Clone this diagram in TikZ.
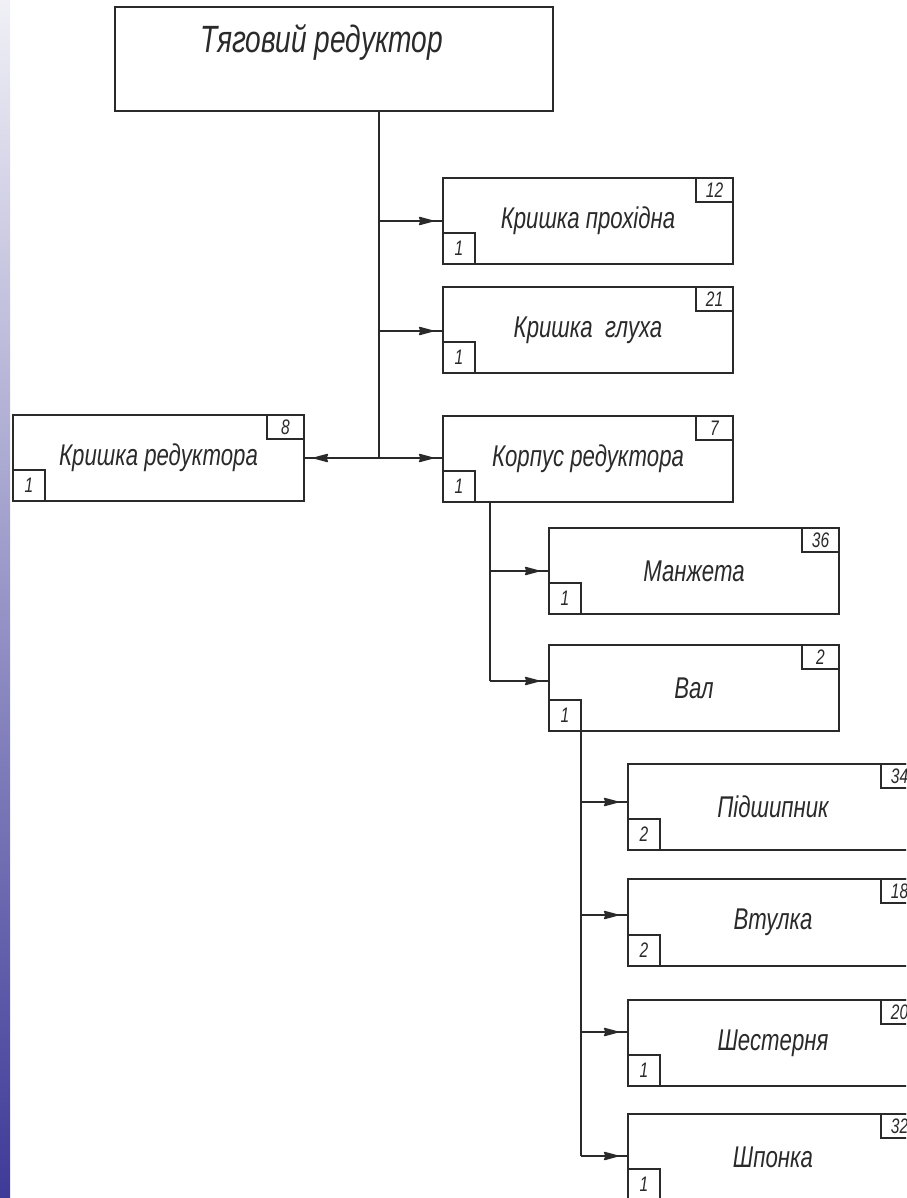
\documentclass[tikz,border=0pt]{standalone}
\usepackage{fontspec}
\setmainfont{Liberation Sans}[FakeStretch=0.74]
\usetikzlibrary{arrows.meta}

\definecolor{stripTop}{HTML}{F0F0F6}
\definecolor{stripBot}{HTML}{3E3A98}
\definecolor{ink}{HTML}{2A2A2A}

\begin{document}
\begin{tikzpicture}[x=1pt, y=-1pt, line width=1.5pt, color=ink,
	part/.style={draw, inner sep=0pt, minimum width=290pt, minimum height=86pt, font=\itshape\fontsize{30}{32}\selectfont},
	posnum/.style={draw, inner sep=0pt, minimum width=37pt, minimum height=24pt, anchor=north east, font=\itshape\fontsize{21}{22}\selectfont},
	qty/.style={draw, inner sep=0pt, minimum width=32pt, minimum height=31pt, anchor=south west, font=\itshape\fontsize{21}{22}\selectfont},
	link/.style={-{Stealth[length=17pt,width=9pt,inset=2pt,round,line width=1.5pt]Rectangle[length=9pt,width=2pt]}}]

	\path[use as bounding box, clip] (0,0) rectangle (906,1198);
	\shade[top color=stripTop, bottom color=stripBot] (0,0) rectangle (10,1198);

	% top of the tree
	\node[part, minimum width=438pt, minimum height=104pt] (root) at (334,59) {};
	\node[font=\itshape\fontsize{38}{40}\selectfont] (rootname) at (322,42) {Тяговий редуктор};

	\node[part] (kp) at (588,221) {Кришка прохідна};
	\node[part] (kg) at (588,330) {Кришка\ \ глуха};
	\node[part] (korp) at (588,459) {Корпус редуктора};
	\node[part, minimum width=291pt] (kr) at (158.5,458) {Кришка редуктора};

	\node[part] (manz) at (694,571) {Манжета};
	\node[part] (val) at (694,688) {Вал};

	\node[part] (pidsh) at (773,807) {Підшипник};
	\node[part, minimum height=87pt] (vtul) at (773,922.5) {Втулка};
	\node[part] (shest) at (773,1043) {Шестерня};
	\node[part] (shp) at (773,1157) {Шпонка};

	% position numbers and quantities
	\foreach \n/\p/\q in {kp/12/1, kg/21/1, korp/7/1, kr/8/1, manz/36/1, val/2/1, pidsh/34/2, vtul/18/2, shest/20/1, shp/32/1} {
		\node[posnum] (\n-pos) at (\n.north east) {\p};
		\node[qty] (\n-qty) at (\n.south west) {\q};
	}

	% first level
	\coordinate (hub) at (379,458);
	\draw (root.south -| hub) -- (hub);
	\foreach \n/\dy in {kp/0, kg/-1, korp/1} {
		\coordinate (\n-in) at ([yshift=\dy pt]\n.west);
		\draw[link] (hub |- \n-in) -- (\n-in);
	}
	\draw[link] (hub) -- (kr.east |- hub);

	% second level
	\coordinate (k2) at (490,681);
	\draw (korp.south -| k2) -- (k2);
	\draw[link] (k2 |- manz.west) -- (manz.west);
	\draw[link] (k2) -- (val.west |- k2);

	% third level
	\coordinate (k3) at (581,1156);
	\foreach \n/\dy in {pidsh/5, vtul/7.5, shest/11, shp/1} {
		\coordinate (\n-in) at ([yshift=\dy pt]\n.west);
		\draw[link] (k3 |- \n-in) -- (\n-in);
	}
	\draw (val.south -| k3) -- (k3 |- shp-in);

\end{tikzpicture}
\end{document}
